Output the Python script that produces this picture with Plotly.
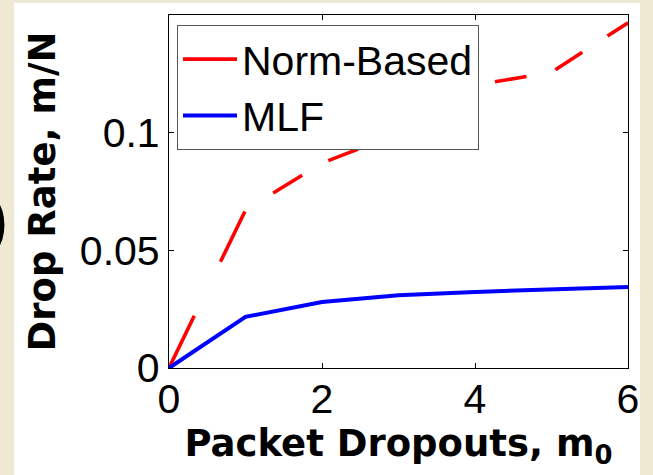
import plotly.graph_objects as go

# ---- data ----
packet_dropouts = [0, 1, 2, 3, 4, 5, 6]
norm_based = [0, 0.067, 0.087, 0.0995, 0.120, 0.1255, 0.1465]
mlf = [0, 0.0217, 0.028, 0.0309, 0.0323, 0.0334, 0.0344]
x_ticks = [0, 2, 4, 6]
y_ticks = [0, 0.05, 0.1]
y_tick_text = ["0", "0.05", "0.1"]

W, H = 653, 475
ML, MR, MT, MB = 169, 25, 15, 107
pw = W - ML - MR
ph = H - MT - MB

def px_x(p):
    return (p - ML) / pw

def px_y(p):
    return (H - MB - p) / ph

dash_pattern = "58px,60px,56px,34px,34px,30px," + ",".join(["32px,30px"] * 14)

fig = go.Figure()
fig.add_trace(go.Scatter(
    x=packet_dropouts, y=norm_based, mode="lines", name="Norm-Based",
    line=dict(color="#FF0000", width=3.6, dash=dash_pattern),
))
fig.add_trace(go.Scatter(
    x=packet_dropouts, y=mlf, mode="lines", name="MLF",
    line=dict(color="#0000FF", width=4),
))

tick_font = dict(family="Liberation Sans, Arial, sans-serif", size=41, color="black")
title_font = dict(family="DejaVu Sans, sans-serif", size=37, color="black", weight="bold")

fig.update_xaxes(
    range=[0, 6], tickvals=x_ticks, ticks="inside", ticklen=5, tickwidth=1.3,
    tickcolor="black", showline=True, linecolor="black", linewidth=1.3,
    mirror="ticks", showgrid=False, zeroline=False, tickfont=tick_font,
    ticklabelstandoff=-5,
    title=dict(text="Packet Dropouts, m<sub>0</sub>", font=title_font, standoff=0),
)
fig.update_yaxes(
    range=[0, 0.1498], tickvals=y_ticks, ticktext=y_tick_text, ticks="inside",
    ticklen=5, tickwidth=1.3, tickcolor="black", showline=True, linecolor="black",
    linewidth=1.3, mirror="ticks", showgrid=False, zeroline=False, tickfont=tick_font,
    title=dict(text="Drop Rate, m/N", font=title_font, standoff=12),
)

# white figure panel over the beige slide background
fig.add_shape(type="rect", xref="paper", yref="paper", layer="below",
              x0=px_x(14), x1=px_x(640), y0=px_y(478), y1=px_y(3),
              fillcolor="white", line=dict(width=0))

fig.add_annotation(text=")", xref="paper", yref="paper", showarrow=False,
                   x=px_x(9), y=px_y(220), xanchor="right", yanchor="middle",
                   font=dict(family="Liberation Sans, Arial", size=58, color="black", weight="bold"))

fig.update_layout(
    width=W, height=H,
    margin=dict(l=ML, r=MR, t=MT, b=MB, autoexpand=False),
    paper_bgcolor="#EFE9D3", plot_bgcolor="white",
    legend=dict(
        x=px_x(177), y=px_y(25), xanchor="left", yanchor="top",
        bgcolor="white", bordercolor="#555555", borderwidth=1,
        font=dict(family="Liberation Sans, Arial, sans-serif", size=41, color="black"),
        itemwidth=54, tracegroupgap=0,
    ),
    showlegend=True,
)

fig.write_html("out.html")
